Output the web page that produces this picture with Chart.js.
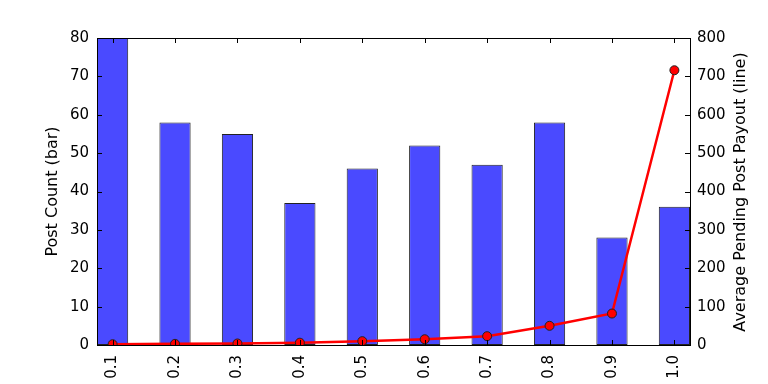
<!DOCTYPE html>
<html>
<head>
<meta charset="utf-8">
<script src="https://cdn.jsdelivr.net/npm/chart.js@4"></script>
<style>
  html, body { margin: 0; padding: 0; background: #fff; }
  #wrap { width: 768px; height: 384px; }
</style>
</head>
<body>
<div id="wrap"><canvas id="chart" width="768" height="384"></canvas></div>
<script>
// 데이터
const categories = ['0.1', '0.2', '0.3', '0.4', '0.5', '0.6', '0.7', '0.8', '0.9', '1.0'];
const postCounts = [80, 58, 55, 37, 46, 52, 47, 58, 28, 36];
const avgPayouts = [2, 3, 4, 6, 10, 15, 23, 50, 82, 716];
const leftTicks = [0, 10, 20, 30, 40, 50, 60, 70, 80];
const rightTicks = [0, 100, 200, 300, 400, 500, 600, 700, 800];
const rightTitle = 'Average Pending Post Payout (line)';

const tickFont = { family: 'DejaVu Sans', size: 15 };
const titleFont = { family: 'DejaVu Sans', size: 16 };

// 축 테두리 + 안쪽 눈금 + 오른쪽 축 제목 (matplotlib 스타일)
const framePlugin = {
    id: 'frame',
    afterDraw(chart) {
        const { ctx, chartArea: a, scales } = chart;
        ctx.save();
        ctx.strokeStyle = '#000';
        ctx.lineWidth = 1;
        ctx.strokeRect(a.left + 0.5, a.top + 0.5, a.right - a.left, a.bottom - a.top);
        ctx.beginPath();
        categories.forEach((c, i) => {
            const x = Math.round(scales.x.getPixelForValue(i)) + 0.5;
            ctx.moveTo(x, a.bottom); ctx.lineTo(x, a.bottom - 5);
            ctx.moveTo(x, a.top); ctx.lineTo(x, a.top + 5);
        });
        leftTicks.forEach(v => {
            const y = Math.round(scales.y.getPixelForValue(v)) + 0.5;
            ctx.moveTo(a.left, y); ctx.lineTo(a.left + 5, y);
        });
        rightTicks.forEach(v => {
            const y = Math.round(scales.y2.getPixelForValue(v)) + 0.5;
            ctx.moveTo(a.right, y); ctx.lineTo(a.right - 5, y);
        });
        ctx.stroke();

        ctx.translate(741, 192);
        ctx.rotate(-Math.PI / 2);
        ctx.fillStyle = '#000';
        ctx.font = '16px "DejaVu Sans"';
        ctx.textAlign = 'center';
        ctx.textBaseline = 'middle';
        ctx.fillText(rightTitle, 0, 0);
        ctx.restore();
    }
};

const noGrid = { display: false, drawTicks: false };

new Chart(document.getElementById('chart').getContext('2d'), {
    data: {
        datasets: [
            {
                type: 'line',
                label: 'Average Pending Post Payout',
                data: avgPayouts.map((v, i) => ({ x: i, y: v })),
                yAxisID: 'y2',
                borderColor: '#ff0000',
                borderWidth: 2.5,
                pointBackgroundColor: '#ff0000',
                pointBorderColor: '#222',
                pointBorderWidth: 1,
                pointRadius: 4.5,
                tension: 0
            },
            {
                type: 'bar',
                label: 'Post Count',
                data: postCounts.map((v, i) => ({ x: i, y: v })),
                yAxisID: 'y',
                backgroundColor: 'rgb(74, 74, 255)',
                borderColor: '#222',
                borderWidth: 1,
                borderSkipped: false,
                barPercentage: 0.5,
                categoryPercentage: 1
            }
        ]
    },
    options: {
        responsive: false,
        animation: false,
        layout: { padding: { top: 38, right: 0, left: 43, bottom: 0 } },
        plugins: {
            legend: { display: false },
            tooltip: { enabled: false }
        },
        scales: {
            x: {
                type: 'linear',
                offset: false,
                min: -0.25,
                max: 9.25,
                afterBuildTicks: axis => { axis.ticks = categories.map((c, i) => ({ value: i })); },
                afterFit: axis => { axis.height = 39; },
                ticks: {
                    color: '#000',
                    font: tickFont,
                    maxRotation: 90,
                    minRotation: 90,
                    padding: 10,
                    callback: v => categories[v]
                },
                grid: noGrid,
                border: { display: false }
            },
            y: {
                position: 'left',
                min: 0,
                max: 80,
                afterBuildTicks: axis => { axis.ticks = leftTicks.map(v => ({ value: v })); },
                afterFit: axis => { axis.width = 54; },
                title: { display: true, text: 'Post Count (bar)', color: '#000', font: titleFont, padding: 0 },
                ticks: { color: '#000', font: tickFont, padding: 8 },
                grid: noGrid,
                border: { display: false }
            },
            y2: {
                position: 'right',
                min: 0,
                max: 800,
                afterBuildTicks: axis => { axis.ticks = rightTicks.map(v => ({ value: v })); },
                afterFit: axis => { axis.width = 78; },
                ticks: { color: '#000', font: tickFont, padding: 7 },
                grid: noGrid,
                border: { display: false }
            }
        }
    },
    plugins: [framePlugin]
});
</script>
</body>
</html>
